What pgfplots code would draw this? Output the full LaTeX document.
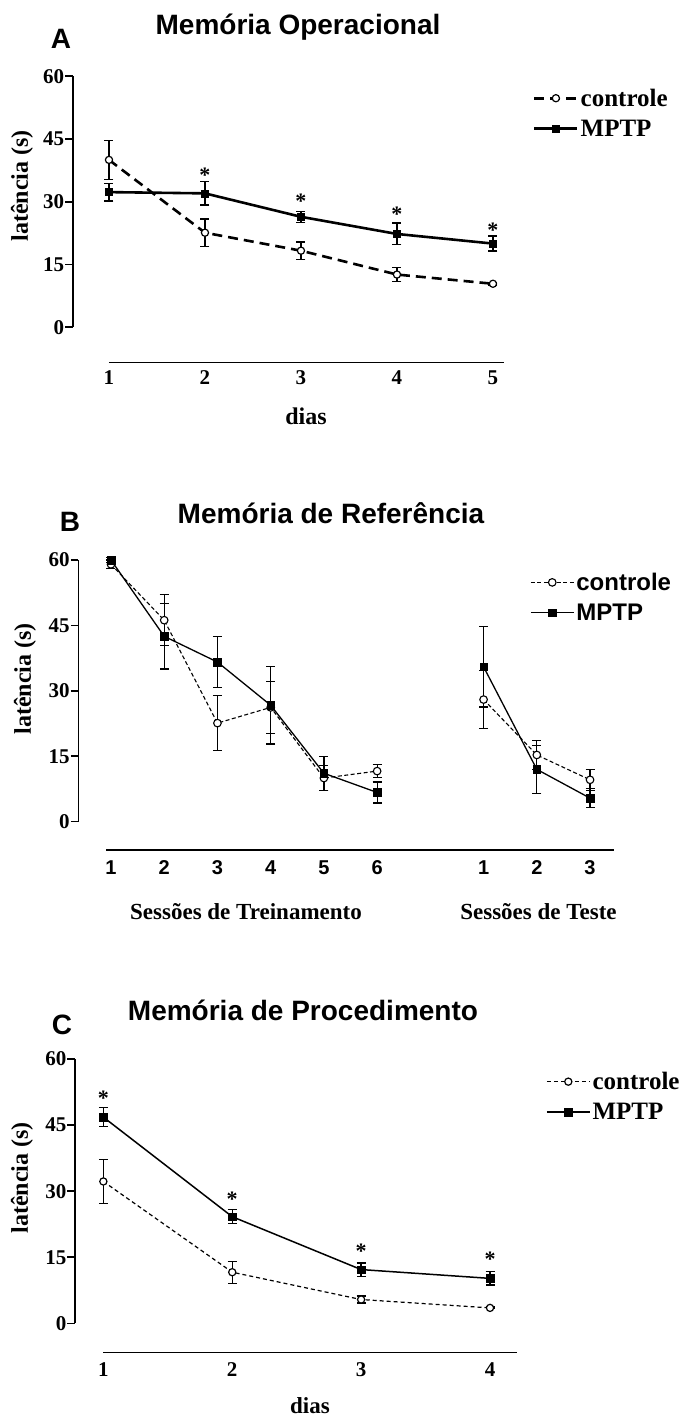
\documentclass[border=0pt]{standalone}
\usepackage{pgfplots}
\pgfplotsset{compat=1.18}
\usepackage{pgfplotstable}
\usepackage{fontspec}
\setmainfont{Liberation Serif}
\setsansfont{Liberation Sans}
\newcommand{\fs}[1]{\fontsize{#1}{#1}\selectfont}

\pgfplotstableread{
x y e
1 40.0 4.7
2 22.6 3.3
3 18.3 2.1
4 12.6 1.7
5 10.4 0.3
}\Actrl
\pgfplotstableread{
x y e
1 32.3 2.1
2 32.0 2.8
3 26.4 1.3
4 22.3 2.6
5 20.0 1.8
}\Ampt
\pgfplotstableread{
x y e
1 59.0 1.0
2 46.2 5.8
3 22.6 6.3
4 26.2 5.9
5 10.0 2.8
6 11.6 1.5
}\Bctrl
\pgfplotstableread{
x y e
8 28.0 6.6
9 15.3 3.3
10 9.6 2.4
}\Bctrlt
\pgfplotstableread{
x y e
1 60.0 0.6
2 42.5 7.5
3 36.6 5.8
4 26.7 8.9
5 11.1 3.9
6 6.7 2.4
}\Bmpt
\pgfplotstableread{
x y e
8 35.5 9.2
9 12.0 5.5
10 5.4 2.2
}\Bmptt
\pgfplotstableread{
x y e
1 32.2 5.0
2 11.6 2.5
3 5.4 0.8
4 3.5 0.2
}\Cctrl
\pgfplotstableread{
x y e
1 46.8 2.2
2 24.2 1.6
3 12.2 1.5
4 10.2 1.5
}\Cmpt

\pgfplotsset{
  base/.style={
    anchor=south west, scale only axis, clip=false,
    axis lines*=left, axis line style={draw=none},
    xtick style={draw=none}, ytick style={line width=1.6pt, black},
    tick align=outside, major tick length=7.5pt,
    ytick={0,15,30,45,60}, ymax=60,
    /pgf/number format/assume math mode=true,
    yticklabel style={font=\fs{21}\bfseries, inner sep=1pt},
    legend cell align=left,
    legend image code/.code={\draw[##1] (0pt,0pt) -- (43pt,0pt); \draw[##1] plot coordinates {(21.5pt,0pt)};},
  },
  ebar/.style={error bars/.cd, y dir=both, y explicit, error bar style={line width=#1, solid}, error mark options={rotate=90, mark size=4.5pt, line width=#1, solid}},
}

\begin{document}
\begin{tikzpicture}
\useasboundingbox (0,0) rectangle (689pt,1417pt);

% ---------- Panel A ----------
\node[font=\sffamily\bfseries\fs{28}] at (298pt,1390pt) {Memória Operacional};
\node[font=\sffamily\bfseries\fs{28}] at (61pt,1378pt) {A};
\node[rotate=90, font=\bfseries\fs{24}] at (22pt,1231pt) {latência (s)};
\node[font=\bfseries\fs{24}] at (306pt,1001pt) {dias};
\begin{axis}[base,
  at={(72.7pt,1054.3pt)}, width=431.3pt, height=286.5pt,
  xmin=0.622, xmax=5.115, ymin=-8.46,
  xtick={1,2,3,4,5},
  xticklabel style={font=\fs{21}\bfseries, inner sep=0.5pt},
  legend style={at={(axis description cs:1.067,0.871)}, anchor=west, draw=none, fill=none, inner sep=0pt, font=\bfseries\fs{25}, row sep=8pt},
]
\addplot[black, line width=2.6pt, dash pattern=on 10pt off 6pt, mark=*, mark options={solid, fill=white, line width=1.2pt, scale=1.0}, mark size=3.6pt, ebar=1.3pt]
  table[x=x, y=y, y error=e] {\Actrl};
\addlegendentry{controle}
\addplot[black, line width=2.6pt, mark=square*, mark size=3.6pt, mark options={solid, line width=0.5pt}, ebar=1.3pt]
  table[x=x, y=y, y error=e] {\Ampt};
\addlegendentry{MPTP}
\draw[line width=1.6pt] (axis cs:0.622,0) -- (axis cs:0.622,60);
\draw[line width=1.6pt] (axis cs:1,-8.46) -- (axis cs:5.115,-8.46);
\node[font=\bfseries\fs{22}] at (axis cs:2,36.4) {*};
\node[font=\bfseries\fs{22}] at (axis cs:3,30.0) {*};
\node[font=\bfseries\fs{22}] at (axis cs:4,27.1) {*};
\node[font=\bfseries\fs{22}] at (axis cs:5,23.3) {*};
\end{axis}

% ---------- Panel B ----------
\node[font=\sffamily\bfseries\fs{28}] at (331pt,904pt) {Memória de Referência};
\node[font=\sffamily\bfseries\fs{28}] at (70pt,895pt) {B};
\node[rotate=90, font=\bfseries\fs{24}] at (25pt,738pt) {latência (s)};
\node[font=\bfseries\fs{23}] at (246pt,505pt) {Sessões de Treinamento};
\node[font=\bfseries\fs{23}] at (538.5pt,505pt) {Sessões de Teste};
\begin{axis}[base,
  at={(78.3pt,567pt)}, width=535.7pt, height=290pt,
  xmin=0.386, xmax=10.45, ymin=-6.49,
  xtick={1,2,3,4,5,6,8,9,10},
  xticklabels={1,2,3,4,5,6,1,2,3},
  xticklabel style={font=\sffamily\bfseries\fs{20}, inner sep=3pt},
  legend style={at={(axis description cs:0.843,0.871)}, anchor=west, draw=none, fill=none, inner sep=0pt, font=\sffamily\bfseries\fs{24}, row sep=8pt},
]
\addplot[black, line width=1.1pt, dash pattern=on 4pt off 2.5pt, mark=*, mark options={solid, fill=white, line width=1.1pt}, mark size=3.8pt, ebar=1.2pt]
  table[x=x, y=y, y error=e] {\Bctrl};
\addlegendentry{controle}
\addplot[black, line width=1.3pt, mark=square*, mark size=3.8pt, mark options={solid, line width=0.5pt}, ebar=1.2pt]
  table[x=x, y=y, y error=e] {\Bmpt};
\addlegendentry{MPTP}
\addplot[forget plot, black, line width=1.1pt, dash pattern=on 4pt off 2.5pt, mark=*, mark options={solid, fill=white, line width=1.1pt}, mark size=3.8pt, ebar=1.2pt]
  table[x=x, y=y, y error=e] {\Bctrlt};
\addplot[forget plot, black, line width=1.3pt, mark=square*, mark size=3.8pt, mark options={solid, line width=0.5pt}, ebar=1.2pt]
  table[x=x, y=y, y error=e] {\Bmptt};
\draw[line width=1.6pt] (axis cs:0.386,0) -- (axis cs:0.386,60);
\draw[line width=1.6pt] (axis cs:0.91,-6.49) -- (axis cs:10.45,-6.49);
\end{axis}

% ---------- Panel C ----------
\node[font=\sffamily\bfseries\fs{28}] at (303pt,407pt) {Memória de Procedimento};
\node[font=\sffamily\bfseries\fs{28}] at (62pt,392pt) {C};
\node[rotate=90, font=\bfseries\fs{24}] at (22pt,239pt) {latência (s)};
\node[font=\bfseries\fs{23}, inner sep=0pt, anchor=base] at (310pt,3pt) {dias};
\begin{axis}[base,
  at={(75pt,64.3pt)}, width=441.7pt, height=293.7pt,
  xmin=0.78, xmax=4.207, ymin=-6.67,
  xtick={1,2,3,4},
  xticklabel style={font=\fs{21}\bfseries, inner sep=2pt},
  legend style={at={(axis description cs:1.066,0.872)}, anchor=west, draw=none, fill=none, inner sep=0pt, font=\bfseries\fs{25}, row sep=8pt},
]
\addplot[black, line width=1.2pt, dash pattern=on 4pt off 3pt, mark=*, mark options={solid, fill=white, line width=1.2pt}, mark size=3.6pt, ebar=1.3pt]
  table[x=x, y=y, y error=e] {\Cctrl};
\addlegendentry{controle}
\addplot[black, line width=1.5pt, mark=square*, mark size=3.8pt, mark options={solid, line width=0.5pt}, ebar=1.3pt]
  table[x=x, y=y, y error=e] {\Cmpt};
\addlegendentry{MPTP}
\draw[line width=1.6pt] (axis cs:0.78,0) -- (axis cs:0.78,60);
\draw[line width=1.6pt] (axis cs:1,-6.67) -- (axis cs:4.207,-6.67);
\node[font=\bfseries\fs{22}] at (axis cs:1,51.1) {*};
\node[font=\bfseries\fs{22}] at (axis cs:2,28.1) {*};
\node[font=\bfseries\fs{22}] at (axis cs:3,16.3) {*};
\node[font=\bfseries\fs{22}] at (axis cs:4,14.6) {*};
\end{axis}
\end{tikzpicture}
\end{document}
